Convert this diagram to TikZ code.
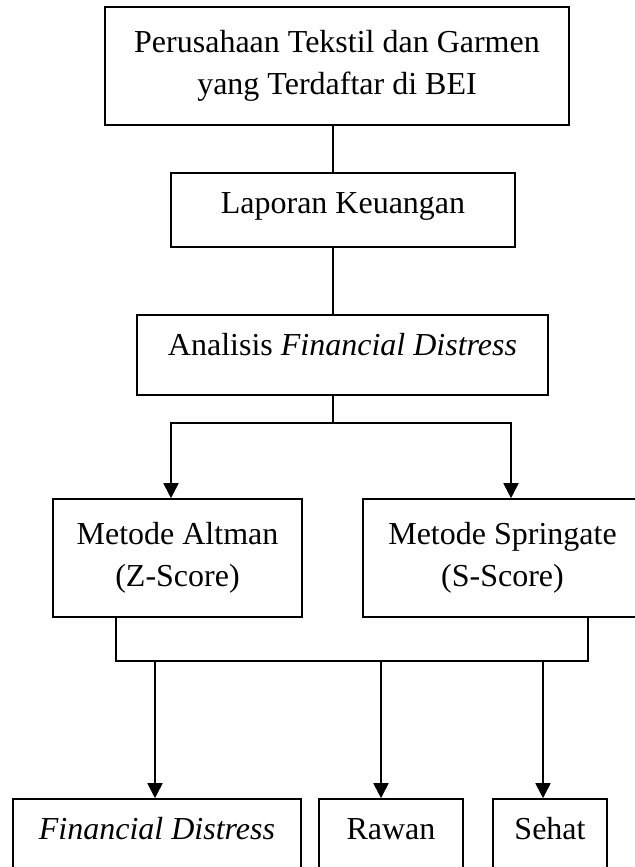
\documentclass[tikz,border=0pt]{standalone}
\usepackage{fontspec}
\setmainfont{Liberation Serif}
\usetikzlibrary{arrows.meta}

\begin{document}
\begin{tikzpicture}[x=0.5pt, y=-0.5pt,
    kotak/.style={draw, line width=0.8pt, inner sep=0pt, align=center,
        font=\fontsize{16}{21}\selectfont},
    satu/.style={kotak, text height=11pt, text depth=8pt},
    garis/.style={line width=0.9pt},
    panah/.style={garis, -{Triangle[length=7.5pt, width=7.5pt]}}]
        \clip (0,0) rectangle (635,867);

        % Alur atas
        \node[kotak, minimum width=232pt, minimum height=59pt] (usaha) at (337,66)
            {Perusahaan Tekstil dan Garmen\\yang Terdaftar di BEI};
        \node[satu, minimum width=172pt, minimum height=37pt] (lapkeu) at (343,210)
            {Laporan Keuangan};
        \node[satu, text depth=11pt, minimum width=205.5pt, minimum height=40pt] (analisis) at (342.5,355)
            {Analisis \textit{Financial Distress}};

        % Metode
        \node[kotak, minimum width=124.5pt, minimum height=59pt] (altman) at (177.5,558)
            {Metode Altman\\(Z-Score)};
        \node[kotak, minimum width=139.5pt, minimum height=59pt] (springate) at (502.5,558)
            {Metode Springate\\(S-Score)};

        % Hasil
        \node[satu, minimum width=144pt, minimum height=37pt] (distress) at (157,836)
            {\textit{Financial Distress}};
        \node[satu, minimum width=72pt, minimum height=37pt] (rawan) at (391,836) {Rawan};
        \node[satu, minimum width=57pt, minimum height=37pt] (sehat) at (550,836) {Sehat};

        % Garis penghubung
        \coordinate (poros) at (333,0);
        \coordinate (cabang) at (333,423);
        \coordinate (kiri) at (171,0);
        \coordinate (kanan) at (511,0);
        \draw[garis] (usaha.south -| poros) -- (lapkeu.north -| poros);
        \draw[garis] (lapkeu.south -| poros) -- (analisis.north -| poros);
        \draw[panah] (analisis.south -| poros) -- (cabang) -| (altman.north -| kiri);
        \draw[panah] (cabang) -| (springate.north -| kanan);

        \coordinate (kakiA) at (116,661);
        \coordinate (kakiB) at (588,661);
        \draw[garis] (altman.south -| kakiA) -- (kakiA) -- (kakiB) -- (springate.south -| kakiB);
        \foreach \hasil/\x in {distress/155, rawan/381, sehat/543}
            \draw[panah] (\x,661) -- (\hasil.north -| \x,0);
\end{tikzpicture}
\end{document}
